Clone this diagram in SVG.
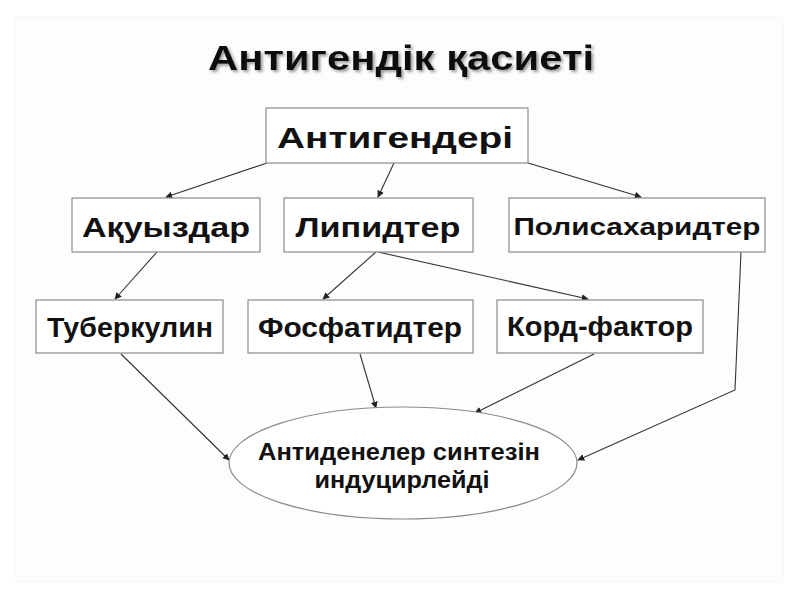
<svg xmlns="http://www.w3.org/2000/svg" width="800" height="600" viewBox="0 0 800 600">
<style>
.box{fill:#fff;stroke:#8a8a8a;stroke-width:1.2}
.lbl{font-family:"Liberation Sans",Arial,sans-serif;font-weight:bold;fill:#111;text-anchor:middle}
.con{fill:none;stroke:#333;stroke-width:1.1;marker-end:url(#ah)}
</style>
<defs>
<marker id="ah" viewBox="0 0 10 10" refX="9" refY="5" markerWidth="7" markerHeight="7" markerUnits="userSpaceOnUse" orient="auto">
<path d="M0,0 L10,5 L0,10 z" fill="#222"/>
</marker>
<filter id="sh" x="-5%" y="-20%" width="110%" height="140%">
<feGaussianBlur in="SourceAlpha" stdDeviation="1.5"/>
<feOffset dx="2" dy="2" result="b"/>
<feFlood flood-color="#777" flood-opacity="0.75"/>
<feComposite in2="b" operator="in"/>
<feMerge><feMergeNode/><feMergeNode in="SourceGraphic"/></feMerge>
</filter>
</defs>
<rect width="800" height="600" fill="#fff"/>
<rect x="16" y="17" width="767" height="565" fill="#fdfdfd" stroke="#f5f5f5" stroke-width="1"/>
<text class="lbl" x="401" y="70" font-size="35" textLength="386" lengthAdjust="spacingAndGlyphs" filter="url(#sh)">Антигендік қасиеті</text>

<g id="connectors">
<line class="con" x1="267" y1="163" x2="166" y2="197"/>
<line class="con" x1="394" y1="163" x2="378" y2="197"/>
<line class="con" x1="528" y1="163" x2="641" y2="197"/>
<line class="con" x1="157" y1="252" x2="115" y2="299"/>
<line class="con" x1="376" y1="252" x2="323" y2="299"/>
<line class="con" x1="378" y1="252" x2="588" y2="299"/>
<polyline class="con" points="741,252 735,390 578,460"/>
<line class="con" x1="121" y1="354" x2="229" y2="460"/>
<line class="con" x1="360" y1="354" x2="376" y2="408"/>
<line class="con" x1="594" y1="354" x2="475" y2="413"/>
</g>

<g id="n-antigenderi">
<rect class="box" x="266" y="108" width="262" height="55"/>
<text class="lbl" x="395" y="148" font-size="29" textLength="236" lengthAdjust="spacingAndGlyphs">Антигендері</text>
</g>
<g id="n-akuyzdar">
<rect class="box" x="72" y="198" width="188" height="54"/>
<text class="lbl" x="166" y="237" font-size="27" textLength="168" lengthAdjust="spacingAndGlyphs">Ақуыздар</text>
</g>
<g id="n-lipidter">
<rect class="box" x="284" y="198" width="189" height="54"/>
<text class="lbl" x="378" y="237" font-size="27" textLength="165" lengthAdjust="spacingAndGlyphs">Липидтер</text>
</g>
<g id="n-polisaharidter">
<rect class="box" x="509" y="198" width="256" height="54"/>
<text class="lbl" x="637" y="235" font-size="24" textLength="247" lengthAdjust="spacingAndGlyphs">Полисахаридтер</text>
</g>
<g id="n-tuberkulin">
<rect class="box" x="36" y="300" width="187" height="53"/>
<text class="lbl" x="130" y="337" font-size="27" textLength="166" lengthAdjust="spacingAndGlyphs">Туберкулин</text>
</g>
<g id="n-fosfatidter">
<rect class="box" x="248" y="300" width="225" height="53"/>
<text class="lbl" x="360" y="337" font-size="27" textLength="204" lengthAdjust="spacingAndGlyphs">Фосфатидтер</text>
</g>
<g id="n-kord">
<rect class="box" x="497" y="300" width="206" height="53"/>
<text class="lbl" x="600" y="336" font-size="27" textLength="186" lengthAdjust="spacingAndGlyphs">Корд-фактор</text>
</g>
<g id="n-antidene">
<ellipse class="box" cx="403" cy="463" rx="174" ry="56"/>
<text class="lbl" x="399" y="460" font-size="24" textLength="282" lengthAdjust="spacingAndGlyphs">Антиденелер синтезін</text>
<text class="lbl" x="402" y="488" font-size="24" textLength="175" lengthAdjust="spacingAndGlyphs">индуцирлейді</text>
</g>
</svg>
